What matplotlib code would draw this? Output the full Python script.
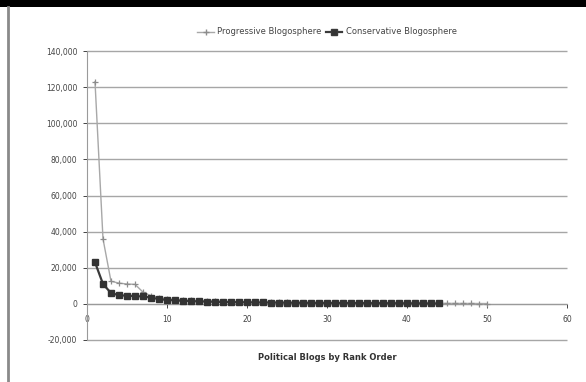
import numpy as np
import matplotlib
matplotlib.use('Agg')
import matplotlib.pyplot as plt
from matplotlib.patches import Rectangle
from matplotlib.lines import Line2D
from matplotlib.ticker import FuncFormatter

# Visits per blog, by rank
progressive = [123000, 36000, 12500, 11500, 11000, 10800, 6500, 4500, 3500, 2800,
               2400, 2100, 1900, 1700, 1550, 1400, 1300, 1200, 1100, 1000,
               950, 900, 860, 820, 780, 740, 700, 670, 640, 610,
               580, 550, 520, 500, 480, 460, 440, 420, 400, 380,
               360, 340, 320, 300, 280, 260, 240, 220, 200, 180]
conservative = [23000, 11000, 6000, 4800, 4500, 4300, 4100, 3500, 2600, 2200,
                1900, 1700, 1500, 1350, 1250, 1150, 1050, 980, 920, 860,
                810, 770, 730, 690, 650, 620, 590, 560, 530, 500,
                480, 460, 440, 420, 400, 380, 360, 340, 320, 300,
                280, 260, 240, 220]
series_names = ['Progressive Blogosphere', 'Conservative Blogosphere']
x_label = 'Political Blogs by Rank Order'
y_ticks = list(range(-20000, 140001, 20000))
x_ticks = list(range(0, 61, 10))

fig = plt.figure(figsize=(5.86, 3.82), dpi=100)
fig.patch.set_facecolor('white')

# black strip on top + gray left edge, like the screenshot
fig.add_artist(Rectangle((0, 1 - 7 / 382), 1, 7 / 382, transform=fig.transFigure,
                         facecolor='black', edgecolor='none'))
fig.add_artist(Line2D([7.5 / 586, 7.5 / 586], [0, 1 - 7 / 382], transform=fig.transFigure,
                      color='#8a8a8a', linewidth=2))

ax = fig.add_axes([87 / 586, 1 - 340 / 382, 480 / 586, 289 / 382])

# horizontal gridlines (drawn by hand so the edge ones are not clipped)
ax.hlines(y_ticks, 0, 60, color='#a6a6a6', linewidth=1.0, clip_on=False, zorder=1)

xp = np.arange(1, len(progressive) + 1)
xc = np.arange(1, len(conservative) + 1)
ax.plot(xp, progressive, color='#a8a8a8', linewidth=1.0, marker='+',
        markersize=4.5, markeredgewidth=0.9, markeredgecolor='#8c8c8c', zorder=3)
ax.plot(xc, conservative, color='#3a3a3a', linewidth=1.6, marker='s',
        markersize=4.4, markerfacecolor='#333333', markeredgecolor='#333333', zorder=4)

ax.set_xlim(0, 60)
ax.set_ylim(-20000, 140000)
ax.set_yticks(y_ticks)
ax.set_xticks(x_ticks)
ax.yaxis.set_major_formatter(FuncFormatter(lambda v, p: f'{int(v):,}'))

for s in ['top', 'right']:
    ax.spines[s].set_visible(False)
ax.spines['bottom'].set_position(('data', 0))
ax.spines['bottom'].set_color('#9a9a9a')
ax.spines['left'].set_color('#9a9a9a')
ax.tick_params(axis='both', labelsize=5.5, colors='#444444', length=3, width=0.7,
               direction='out', pad=4)
ax.tick_params(axis='x', pad=5)

ax.text(0.5, -0.045, x_label, transform=ax.transAxes, ha='center', va='top',
        fontsize=6, fontweight='bold', color='#333333')

handles = [
    Line2D([], [], color='#a8a8a8', linewidth=1.0, marker='+', markersize=4.5,
           markeredgecolor='#8c8c8c'),
    Line2D([], [], color='#3a3a3a', linewidth=1.6, marker='s', markersize=4.4,
           markerfacecolor='#333333'),
]
fig.legend(handles, series_names, loc='center', bbox_to_anchor=(327 / 586, 1 - 32 / 382),
           ncol=2, frameon=False, fontsize=6, handlelength=2.0, columnspacing=0.5,
           handletextpad=0.4, labelcolor='#444444')

fig.savefig('out.png', dpi=100)
